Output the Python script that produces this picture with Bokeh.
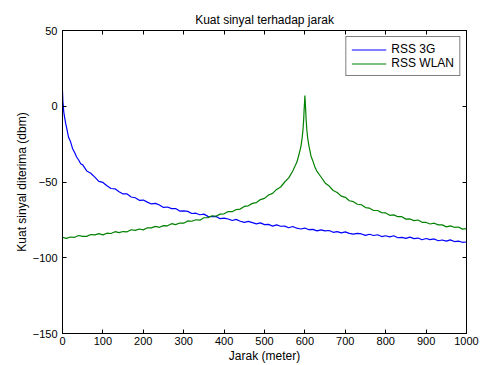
from bokeh.plotting import figure
from bokeh.models import LinearAxis, Range1d, Legend, LegendItem, FixedTicker
from bokeh.embed import file_html
from bokeh.resources import INLINE

# ---- data ----
x_3g = [0, 1, 2, 3, 5, 8, 10, 15, 20, 25, 30, 35, 40, 45,
        50, 60, 70, 80, 90, 100, 110, 120, 130, 140, 150, 160, 170, 180, 190,
        200, 210, 220, 230, 240, 250, 260, 270, 280, 290,
        300, 310, 320, 330, 340, 350, 360, 370, 380, 390,
        400, 410, 420, 430, 440, 450, 460, 470, 480, 490,
        500, 510, 520, 530, 540, 550, 560, 570, 580, 590,
        600, 610, 620, 630, 640, 650, 660, 670, 680, 690,
        700, 710, 720, 730, 740, 750, 760, 770, 780, 790,
        800, 810, 820, 830, 840, 850, 860, 870, 880, 890,
        900, 910, 920, 930, 940, 950, 960, 970, 980, 990, 1000]
rss_3g = [10.0, 3.0, 0.5, -3.5, -7.0, -11.5, -14.0, -20.5, -23.5, -28.0, -30.5, -33.5, -35.5, -38.0,
          -38.7, -42.7, -44.2, -46.8, -49.6, -50.3, -52.5, -54.3, -54.5, -56.4, -57.9, -57.9, -59.9, -60.4, -62.1,
          -61.9, -63.3, -64.5, -64.1, -65.2, -66.8, -66.5, -67.6, -67.5, -69.2,
          -69.1, -69.4, -70.8, -70.6, -71.6, -71.2, -72.7, -72.8, -72.7, -74.2,
          -73.8, -74.4, -75.4, -74.7, -75.9, -76.6, -76.0, -76.8, -77.6, -77.0,
          -78.1, -78.0, -79.1, -78.3, -79.2, -79.1, -80.2, -79.4, -80.5, -81.0,
          -80.4, -81.5, -81.3, -82.3, -81.6, -82.3, -82.0, -83.2, -82.8, -83.6,
          -82.9, -83.9, -84.4, -83.9, -84.3, -85.2, -84.5, -85.3, -84.8, -86.0,
          -85.5, -86.2, -85.5, -86.8, -86.5, -87.2, -86.4, -87.4, -87.0, -88.1,
          -87.3, -88.0, -87.6, -88.8, -88.3, -89.0, -88.2, -89.3, -89.0, -89.8, -89.6]

x_wlan = [0, 10, 20, 30, 40, 50, 60, 70, 80, 90,
          100, 110, 120, 130, 140, 150, 160, 170, 180, 190,
          200, 210, 220, 230, 240, 250, 260, 270, 280, 290,
          300, 310, 320, 330, 340, 350, 360, 370, 380, 390,
          400, 410, 420, 430, 440, 450, 460, 470, 480, 490,
          500, 510, 520, 530, 540, 550, 560, 570, 575, 580, 585, 590,
          593, 595, 597, 598, 599, 600, 601, 602, 603, 605, 607,
          610, 615, 620, 625, 630, 640, 650, 660, 670, 680, 690,
          700, 710, 720, 730, 740, 750, 760, 770, 780, 790,
          800, 810, 820, 830, 840, 850, 860, 870, 880, 890,
          900, 910, 920, 930, 940, 950, 960, 970, 980, 990, 1000]
rss_wlan = [-86.6, -87.2, -86.3, -86.5, -85.3, -85.9, -85.9, -84.7, -84.9, -84.1,
            -84.9, -83.8, -84.0, -82.8, -83.4, -82.7, -82.9, -81.5, -81.9, -81.0,
            -81.6, -80.2, -80.3, -79.3, -79.9, -78.8, -78.9, -77.5, -78.1, -77.1,
            -77.2, -75.7, -75.9, -74.9, -75.2, -73.6, -73.5, -72.3, -72.6, -71.2,
            -71.0, -69.5, -69.6, -68.2, -67.9, -66.1, -65.7, -64.1, -63.6, -61.6,
            -60.8, -58.6, -57.5, -54.9, -53.3, -50.0, -47.3, -42.7, -39.7, -37.0, -32.2, -26.8,
            -21.2, -16.3, -8.7, -2.7, 2.0, 7.0, 2.0, -2.7, -8.7, -16.3, -21.2,
            -26.2, -32.8, -36.4, -40.3, -43.0, -46.7, -50.6, -52.7, -55.6, -56.9, -59.3,
            -60.1, -62.4, -63.0, -64.7, -65.0, -66.9, -67.3, -68.8, -68.8, -70.2,
            -70.4, -72.0, -71.7, -72.9, -72.9, -74.5, -74.4, -75.5, -75.1, -76.6,
            -76.7, -77.7, -77.2, -78.3, -78.3, -79.6, -79.0, -79.9, -79.7, -81.1, -80.8]

x_ticks = [0, 100, 200, 300, 400, 500, 600, 700, 800, 900, 1000]
y_ticks = [-150, -100, -50, 0, 50]
series_labels = ["RSS 3G", "RSS WLAN"]

FONT = "Liberation Sans"

p = figure(width=480, height=365, output_backend="svg", toolbar_location=None,
           x_range=Range1d(0, 1000), y_range=Range1d(-150, 50),
           min_border_left=62, min_border_right=14, min_border_top=30, min_border_bottom=31,
           title="Kuat sinyal terhadap jarak",
           background_fill_color="white", border_fill_color="white")

p.title.align = "center"
p.title.text_font = FONT
p.title.text_font_size = "12px"
p.title.text_font_style = "normal"
p.title.text_color = "black"
p.title.standoff = 8

p.grid.visible = False
p.outline_line_color = "black"

def style_axis(ax, ticks, labels=True):
    ax.major_tick_in = 4
    ax.major_tick_out = 0
    ax.minor_tick_line_color = None
    ax.axis_line_color = "black"
    ax.major_tick_line_color = "black"
    ax.major_label_text_font = FONT
    ax.major_label_text_color = "black"
    ax.major_label_text_font_size = "11px"
    if not labels:
        ax.major_label_overrides = {t: "" for t in ticks}
        ax.major_label_standoff = 0

p.xaxis.ticker = FixedTicker(ticks=x_ticks)
p.yaxis.ticker = FixedTicker(ticks=y_ticks)
style_axis(p.xaxis[0], x_ticks)
style_axis(p.yaxis[0], y_ticks)
p.xaxis.major_label_standoff = 3
p.yaxis.major_label_standoff = 5
p.xaxis.axis_label = "Jarak (meter)"
p.yaxis.axis_label = "Kuat sinyal diterima (dbm)"
for ax in (p.xaxis[0], p.yaxis[0]):
    ax.axis_label_text_font = FONT
    ax.axis_label_text_font_size = "12px"
    ax.axis_label_text_font_style = "normal"
    ax.axis_label_text_color = "black"
p.xaxis.axis_label_standoff = 1
p.yaxis.axis_label_standoff = 1

top_ax = LinearAxis(ticker=FixedTicker(ticks=x_ticks))
style_axis(top_ax, x_ticks, labels=False)
p.add_layout(top_ax, "above")
right_ax = LinearAxis(ticker=FixedTicker(ticks=y_ticks))
style_axis(right_ax, y_ticks, labels=False)
p.add_layout(right_ax, "right")

r1 = p.line(x_3g, rss_3g, line_color="#0000ff", line_width=1.2)
r2 = p.line(x_wlan, rss_wlan, line_color="#008000", line_width=1.2)

legend = Legend(items=[LegendItem(label=series_labels[0], renderers=[r1]),
                       LegendItem(label=series_labels[1], renderers=[r2])],
                location="top_right", margin=6, padding=5, spacing=0,
                glyph_width=35, glyph_height=11, label_height=11, label_standoff=5,
                label_text_font=FONT, label_text_font_size="12px", label_text_color="black",
                border_line_color="black", border_line_width=1,
                background_fill_color="white", background_fill_alpha=1)
p.add_layout(legend)

open("out.html", "w").write(file_html(p, INLINE))
